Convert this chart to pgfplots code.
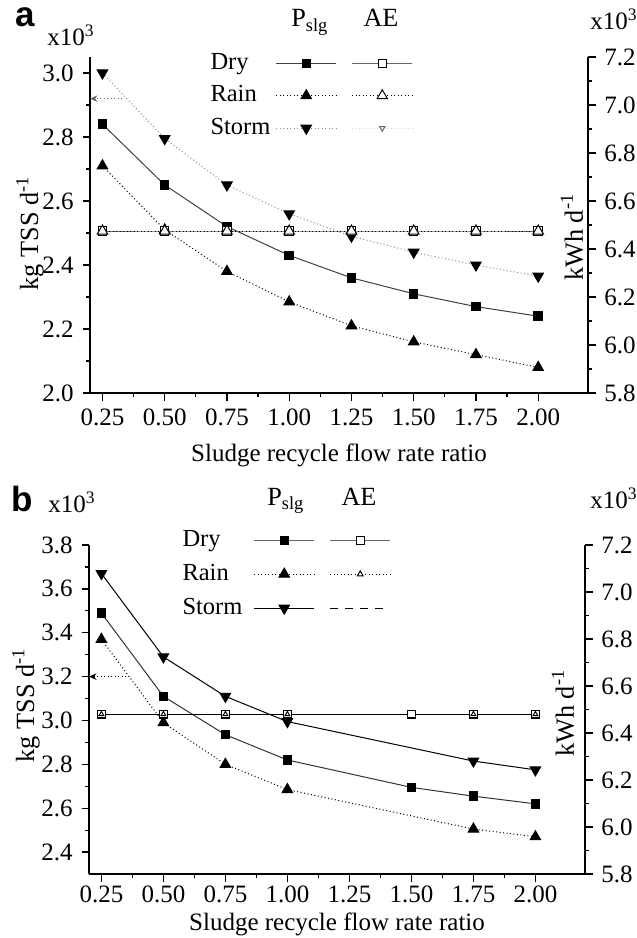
\documentclass[border=0pt]{standalone}
\usepackage{pgfplots}
\pgfplotsset{compat=1.18}
\usepackage{fontspec}
\setmainfont{Liberation Serif}
\newfontfamily\panelfont{Liberation Sans}
\usetikzlibrary{arrows.meta}

% shared look of all four axes
\pgfplotsset{
  base/.style={
    scale only axis,
    xmin=0.2, xmax=2.2,
    xtick={0.25,0.5,0.75,1.0,1.25,1.5,1.75,2.0},
    minor x tick num=1,
    minor y tick num=1,
    tick align=outside,
    major tick length=3pt,
    minor tick length=1.6pt,
    every tick/.style={black, line width=0.5pt},
    axis line style={line width=0.6pt},
    tick label style={font=\fontsize{10}{12}\selectfont},
    xticklabel style={/pgf/number format/.cd, fixed, fixed zerofill, precision=2, assume math mode=true},
    yticklabel style={/pgf/number format/.cd, fixed, fixed zerofill, precision=1, assume math mode=true},
    clip=false,
  },
  leftax/.style={base, axis y line*=left, axis x line*=bottom},
  rightax/.style={base, axis y line*=right, axis x line=none},
  legbox/.style={
    legend plot pos=right,
    legend columns=2,
    legend cell align=left,
    legend image code/.code={
      \draw[mark repeat=2, mark phase=2, ##1] plot coordinates {(0pt,0pt) (12pt,0pt) (24pt,0pt)};
    },
  },
}

\begin{document}
\begin{tikzpicture}[x=0.4pt, y=-0.4pt, font=\fontsize{10.5}{12.5}\selectfont]
\path[use as bounding box] (0,0) rectangle (636,938);

%% ---------------- panel a ----------------
\begin{axis}[leftax, legbox,
  at={(36pt,-157.2pt)}, anchor=south west,
  width=199.2pt, height=134.4pt,
  ymin=2.0, ymax=3.05,
  ytick={2.0,2.2,2.4,2.6,2.8,3.0},
  legend style={at={(0.241,1.012)}, anchor=north west, draw=none, fill=none,
    inner sep=0pt, nodes={inner sep=0pt}, row sep=5pt, column sep=2.5pt,
    font=\fontsize{9.8}{11}\selectfont},
]
\addlegendimage{black!75, mark=square*, mark size=1.7pt, mark options={solid, black}}
\addlegendentry{\makebox[23.6pt][l]{Dry}}
\addlegendimage{black!60, mark=square*, mark size=1.7pt, mark options={solid, fill=white, draw=black}}
\addlegendentry{\mbox{}}
\addlegendimage{black, densely dotted, mark=triangle*, mark size=2.4pt, mark options={solid}}
\addlegendentry{\makebox[23.6pt][l]{Rain}}
\addlegendimage{black, densely dotted, mark=triangle*, mark size=2.4pt, mark options={solid, fill=white}}
\addlegendentry{\mbox{}}
\addlegendimage{black!45, densely dotted, mark=triangle*, mark size=2.4pt, mark options={solid, rotate=180, black}}
\addlegendentry{\makebox[23.6pt][l]{Storm}}
\addlegendimage{black!15, densely dotted, mark=triangle, mark size=1.2pt, mark options={solid, rotate=180, black!60}}
\addlegendentry{\mbox{}}

% P_slg, dry
\addplot[forget plot, black!75, line width=0.4pt, mark=square*, mark size=1.7pt, mark options={solid, black}] coordinates {
  (0.25,2.84) (0.50,2.65) (0.75,2.52) (1.00,2.43) (1.25,2.36) (1.50,2.31) (1.75,2.27) (2.00,2.24)};
% P_slg, rain
\addplot[forget plot, black, densely dotted, line width=0.4pt, mark=triangle*, mark size=2.4pt, mark options={solid}] coordinates {
  (0.25,2.71) (0.50,2.51) (0.75,2.38) (1.00,2.285) (1.25,2.21) (1.50,2.16) (1.75,2.12) (2.00,2.08)};
% P_slg, storm
\addplot[forget plot, black!45, densely dotted, line width=0.4pt, mark=triangle*, mark size=2.4pt, mark options={solid, rotate=180, black}] coordinates {
  (0.25,3.00) (0.50,2.795) (0.75,2.65) (1.00,2.56) (1.25,2.49) (1.50,2.44) (1.75,2.40) (2.00,2.365)};
\draw[black!60, densely dotted, line width=0.4pt, -{Stealth[length=3pt, width=2.6pt]}] (axis cs:0.33,2.92) -- (axis cs:0.2,2.92);
\end{axis}

\begin{axis}[rightax,
  at={(36pt,-157.2pt)}, anchor=south west,
  width=199.2pt, height=134.4pt,
  ymin=5.8, ymax=7.2,
  ytick={5.8,6.0,6.2,6.4,6.6,6.8,7.0,7.2},
]
% AE, storm
\addplot[black!35, densely dotted, line width=0.4pt, mark=triangle, mark size=1.2pt, mark options={solid, rotate=180, black!60}] coordinates {
  (0.25,6.475) (0.50,6.475) (0.75,6.475) (1.00,6.475) (1.25,6.475) (1.50,6.475) (1.75,6.475) (2.00,6.475)};
% AE, dry
\addplot[black!60, line width=0.4pt, mark=square*, mark size=1.7pt, mark options={solid, fill=white, draw=black}] coordinates {
  (0.25,6.475) (0.50,6.475) (0.75,6.475) (1.00,6.475) (1.25,6.475) (1.50,6.475) (1.75,6.475) (2.00,6.475)};
% AE, rain
\addplot[black, densely dotted, line width=0.4pt, mark=triangle*, mark size=2.4pt, mark options={solid, fill=white}] coordinates {
  (0.25,6.475) (0.50,6.475) (0.75,6.475) (1.00,6.475) (1.25,6.475) (1.50,6.475) (1.75,6.475) (2.00,6.475)};
\end{axis}

%% ---------------- panel b ----------------
\begin{axis}[leftax, legbox,
  at={(35.6pt,-349.6pt)}, anchor=south west,
  width=198.4pt, height=131.6pt,
  ymin=2.3, ymax=3.8,
  ytick={2.4,2.6,2.8,3.0,3.2,3.4,3.6,3.8},
  xticklabel style={/tikz/inner sep=1.5pt},
  legend style={at={(0.1875,1.046)}, anchor=north west, draw=none, fill=none,
    inner sep=0pt, nodes={inner sep=0pt}, row sep=5.6pt, column sep=2.5pt,
    font=\fontsize{9.8}{11}\selectfont},
]
\addlegendimage{black!60, mark=square*, mark size=1.7pt, mark options={solid, black}}
\addlegendentry{\makebox[26pt][l]{Dry}}
\addlegendimage{black!60, mark=square*, mark size=1.5pt, mark options={solid, fill=white, draw=black}}
\addlegendentry{\mbox{}}
\addlegendimage{black, densely dotted, mark=triangle*, mark size=2.4pt, mark options={solid}}
\addlegendentry{\makebox[26pt][l]{Rain}}
\addlegendimage{black, densely dotted, mark=triangle*, mark size=1.3pt, mark options={solid, fill=white}}
\addlegendentry{\mbox{}}
\addlegendimage{black, mark=triangle*, mark size=2.4pt, mark options={solid, rotate=180}}
\addlegendentry{\makebox[26pt][l]{Storm}}
\addlegendimage{black, dashed}
\addlegendentry{\mbox{}}

% P_slg, dry
\addplot[forget plot, black!80, line width=0.4pt, mark=square*, mark size=1.7pt, mark options={solid, black}] coordinates {
  (0.25,3.49) (0.50,3.11) (0.75,2.935) (1.00,2.82) (1.50,2.695) (1.75,2.655) (2.00,2.62)};
% P_slg, rain
\addplot[forget plot, black, densely dotted, line width=0.4pt, mark=triangle*, mark size=2.4pt, mark options={solid}] coordinates {
  (0.25,3.37) (0.50,2.99) (0.75,2.80) (1.00,2.685) (1.75,2.505) (2.00,2.47)};
% P_slg, storm
\addplot[forget plot, black, line width=0.4pt, mark=triangle*, mark size=2.4pt, mark options={solid, rotate=180}] coordinates {
  (0.25,3.67) (0.50,3.29) (0.75,3.11) (1.00,2.995) (1.75,2.815) (2.00,2.775)};
\draw[black, densely dotted, line width=0.4pt, -{Stealth[length=3pt, width=2.6pt]}] (axis cs:0.35,3.2) -- (axis cs:0.2,3.2);
\end{axis}

\begin{axis}[rightax,
  at={(35.6pt,-349.6pt)}, anchor=south west,
  width=198.4pt, height=131.6pt,
  ymin=5.8, ymax=7.2,
  ytick={5.8,6.0,6.2,6.4,6.6,6.8,7.0,7.2},
]
% AE, storm
\addplot[black, dashed, line width=0.4pt] coordinates {
  (0.25,6.48) (0.50,6.48) (0.75,6.48) (1.00,6.48) (1.75,6.48) (2.00,6.48)};
% AE, dry
\addplot[black, line width=0.5pt, mark=square*, mark size=1.5pt, mark options={solid, fill=white}] coordinates {
  (0.25,6.48) (0.50,6.48) (0.75,6.48) (1.00,6.48) (1.50,6.48) (1.75,6.48) (2.00,6.48)};
% AE, rain
\addplot[black, densely dotted, line width=0.4pt, mark=triangle, mark size=1.1pt, mark options={solid}] coordinates {
  (0.25,6.48) (0.50,6.48) (0.75,6.48) (1.00,6.48) (1.75,6.48) (2.00,6.48)};
\end{axis}

%% ---------------- text around the panels ----------------
\node[font=\panelfont\bfseries\fontsize{14}{16}\selectfont] at (25,17) {a};
\node[font=\fontsize{10}{12}\selectfont] at (71,35) {x10\textsuperscript{3}};
\node[font=\fontsize{10}{12}\selectfont] at (614,19) {x10\textsuperscript{3}};
\node[anchor=base] at (310,27) {P\textsubscript{slg}};
\node[anchor=base] at (381,27) {AE};
\node[rotate=90] at (30,233) {kg TSS d\textsuperscript{-1}};
\node[rotate=90] at (572,237) {kWh d\textsuperscript{-1}};
\node[font=\fontsize{10}{12}\selectfont] at (339,455) {Sludge recycle flow rate ratio};

\node[font=\panelfont\bfseries\fontsize{14}{16}\selectfont] at (22,499) {b};
\node[font=\fontsize{10}{12}\selectfont] at (72,502) {x10\textsuperscript{3}};
\node[font=\fontsize{10}{12}\selectfont] at (614,498) {x10\textsuperscript{3}};
\node[anchor=base] at (286,505) {P\textsubscript{slg}};
\node[anchor=base] at (359,505) {AE};
\node[rotate=90] at (26,705) {kg TSS d\textsuperscript{-1}};
\node[rotate=90] at (563,713) {kWh d\textsuperscript{-1}};
\node[font=\fontsize{10}{12}\selectfont, inner sep=0pt] at (337,924) {Sludge recycle flow rate ratio};
\end{tikzpicture}
\end{document}
